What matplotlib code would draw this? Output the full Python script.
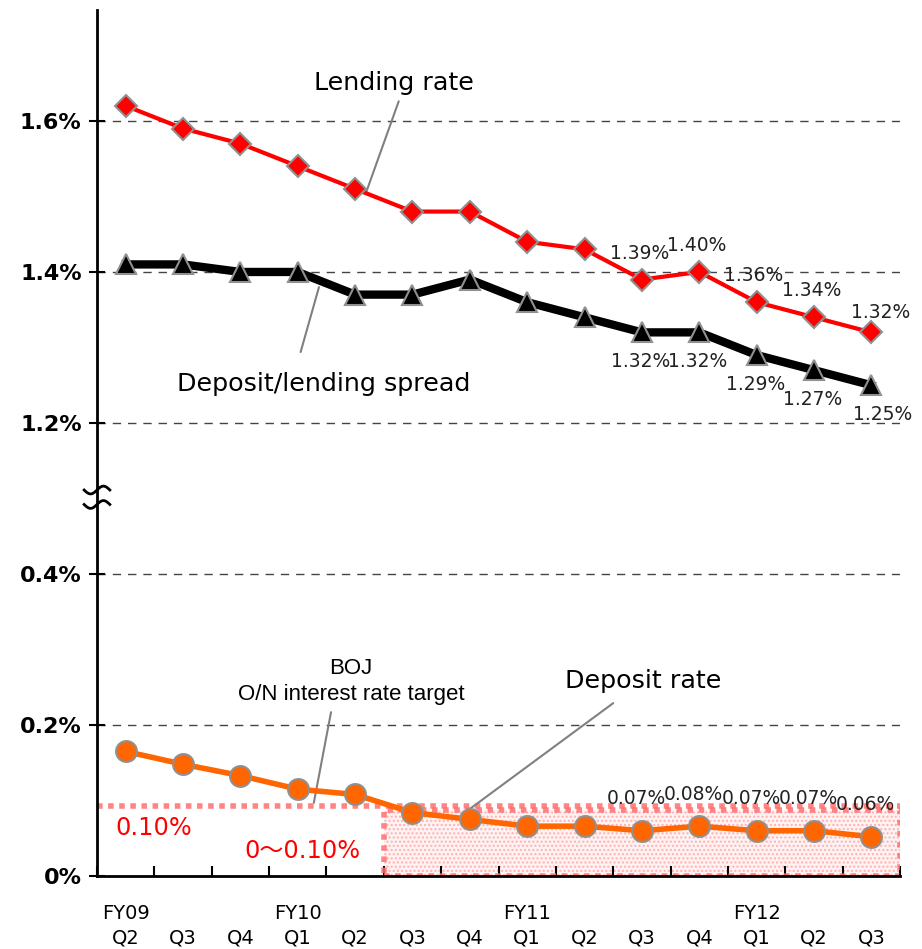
import numpy as np
import matplotlib
matplotlib.use("Agg")
import matplotlib.pyplot as plt
from matplotlib.patches import Rectangle

# quarters FY09 Q2 .. FY12 Q3
fy_labels = ["FY09", "", "", "FY10", "", "", "", "FY11", "", "", "", "FY12", "", ""]
q_labels = ["Q2", "Q3", "Q4", "Q1", "Q2", "Q3", "Q4", "Q1", "Q2", "Q3", "Q4", "Q1", "Q2", "Q3"]

lending = [1.62, 1.59, 1.57, 1.54, 1.51, 1.48, 1.48, 1.44, 1.43, 1.39, 1.40, 1.36, 1.34, 1.32]
spread = [1.41, 1.41, 1.40, 1.40, 1.37, 1.37, 1.39, 1.36, 1.34, 1.32, 1.32, 1.29, 1.27, 1.25]
deposit = [0.165, 0.148, 0.133, 0.115, 0.108, 0.084, 0.075, 0.066, 0.066, 0.060, 0.066, 0.060, 0.060, 0.052]

lending_labels = ["1.39%", "1.40%", "1.36%", "1.34%", "1.32%"]
spread_labels = ["1.32%", "1.32%", "1.29%", "1.27%", "1.25%"]
deposit_labels = ["0.07%", "0.08%", "0.07%", "0.07%", "0.06%"]

boj_target = 0.093      # 0.10% line as drawn
boj_zero_band = 0.087   # 0~0.10% band top as drawn

ytick_vals = [0, 0.2, 0.4, 1.2, 1.4, 1.6]
ytick_text = ["0%", "0.2%", "0.4%", "1.2%", "1.4%", "1.6%"]


def fwd(v):
    v = np.asarray(v, dtype=float)
    return np.where(v <= 0.4, v, np.where(v >= 1.2, v - 0.6, 0.4 + (v - 0.4) * 0.25))


def inv(p):
    p = np.asarray(p, dtype=float)
    return np.where(p <= 0.4, p, np.where(p >= 0.6, p + 0.6, 0.4 + (p - 0.4) * 4.0))


narrow = "Liberation Sans Narrow"

fig = plt.figure(figsize=(9.22, 9.49), dpi=100)
ax = fig.add_axes([0.1052, 0.0769, 0.8710, 0.9126])
ax.set_yscale("function", functions=(fwd, inv))

x = np.arange(len(q_labels))

# BOJ target line and band
ax.plot([-0.5, 13.5], [boj_target, boj_target], color="#ff7070", lw=4,
        linestyle=(0, (1, 1)), alpha=0.85, zorder=2, solid_capstyle="butt")
ax.add_patch(Rectangle((4.5, 0), 9.0, boj_zero_band, facecolor="#fff2f2",
                       edgecolor="#ffb0b0", hatch="....", lw=0, zorder=1))
ax.add_patch(Rectangle((4.5, 0), 9.0, boj_zero_band, facecolor="none",
                       edgecolor="#ff7070", lw=4, linestyle=(0, (1, 1)), alpha=0.85, zorder=2))

ax.plot(x, spread, color="black", lw=6, marker="^", ms=14, mfc="black",
        mec="#909090", mew=1.5, zorder=4)
ax.plot(x, lending, color="#ff0000", lw=3, marker="D", ms=11, mfc="#ff0000",
        mec="#909090", mew=1.5, zorder=5)
ax.plot(x, deposit, color="#ff6600", lw=4, marker="o", ms=15, mfc="#ff6600",
        mec="#909090", mew=1.5, zorder=5)

# data labels for the last five quarters
lab_kw = dict(textcoords="offset points", ha="center", va="center",
              fontsize=13.5, family=narrow, color="#222222")
for i, t in enumerate(lending_labels):
    k = 9 + i
    dx = 7 if k == 13 else -2
    dy = 14 if k == 13 else 19
    ax.annotate(t, (k, lending[k]), xytext=(dx, dy), **lab_kw)
for i, t in enumerate(spread_labels):
    k = 9 + i
    dx = 8 if k == 13 else -1
    ax.annotate(t, (k, spread[k]), xytext=(dx, -21), **lab_kw)
for i, t in enumerate(deposit_labels):
    k = 9 + i
    ax.annotate(t, (k, deposit[k]), xytext=(-4, 23), **lab_kw)

# callouts
line_kw = dict(arrowstyle="-", color="#808080", lw=1.5, shrinkA=0, shrinkB=0)
ax.annotate("", xy=(4.19, 1.505), xytext=(4.76, 1.626), arrowprops=line_kw)
ax.text(4.68, 1.650, "Lending rate", ha="center", va="center", fontsize=18.3)
ax.annotate("", xy=(3.37, 1.380), xytext=(3.05, 1.294), arrowprops=line_kw)
ax.text(3.46, 1.252, "Deposit/lending spread", ha="center", va="center", fontsize=18.3)
ax.annotate("", xy=(3.28, 0.097), xytext=(3.58, 0.217), arrowprops=line_kw)
ax.text(3.93, 0.258, "BOJ\nO/N interest rate target", ha="center", va="center",
        fontsize=16, family="Liberation Sans", linespacing=1.3)
ax.annotate("", xy=(6.02, 0.090), xytext=(8.5, 0.229), arrowprops=line_kw)
ax.text(9.02, 0.258, "Deposit rate", ha="center", va="center", fontsize=18.3)

ax.text(0.49, 0.063, "0.10%", color="#ff0000", ha="center", va="center", fontsize=17.3)
ax.text(3.09, 0.033, "0\u301c0.10%", color="#ff0000", ha="center", va="center",
        fontsize=17.3, family=["DejaVu Sans", "Noto Sans CJK JP"])

# axes styling
ax.set_xlim(-0.5, 13.5)
ax.set_ylim(0, 1.747)
ax.set_yticks(ytick_vals)
ax.set_yticklabels(ytick_text, fontsize=16, fontweight="bold")
ax.yaxis.set_minor_locator(matplotlib.ticker.NullLocator())
ax.tick_params(axis="y", direction="inout", length=12, width=1.5, pad=5)
for v in ytick_vals[1:]:
    ax.axhline(v, color="#444444", lw=1, linestyle=(0, (6, 5)), zorder=0)

ax.set_xticks(x)
ax.set_xticklabels([f"{a}\n{b}" for a, b in zip(fy_labels, q_labels)],
                   fontsize=14, family=narrow, linespacing=1.35)
ax.tick_params(axis="x", which="major", length=0, pad=20)
ax.set_xticks(np.arange(-0.5, 13.6, 1.0), minor=True)
ax.tick_params(axis="x", which="minor", direction="in", length=7, width=1.5)

for s in ["top", "right"]:
    ax.spines[s].set_visible(False)
for s in ["left", "bottom"]:
    ax.spines[s].set_linewidth(2)

# axis break mark
tr = ax.transAxes
t = np.linspace(-1, 1, 40)
for yc in (0.4457, 0.4290):
    ax.plot(t * 0.016, yc + 0.0045 * np.sin(t * np.pi), color="black", lw=2,
            transform=tr, clip_on=False, zorder=6)

fig.savefig("out.png", dpi=100)
